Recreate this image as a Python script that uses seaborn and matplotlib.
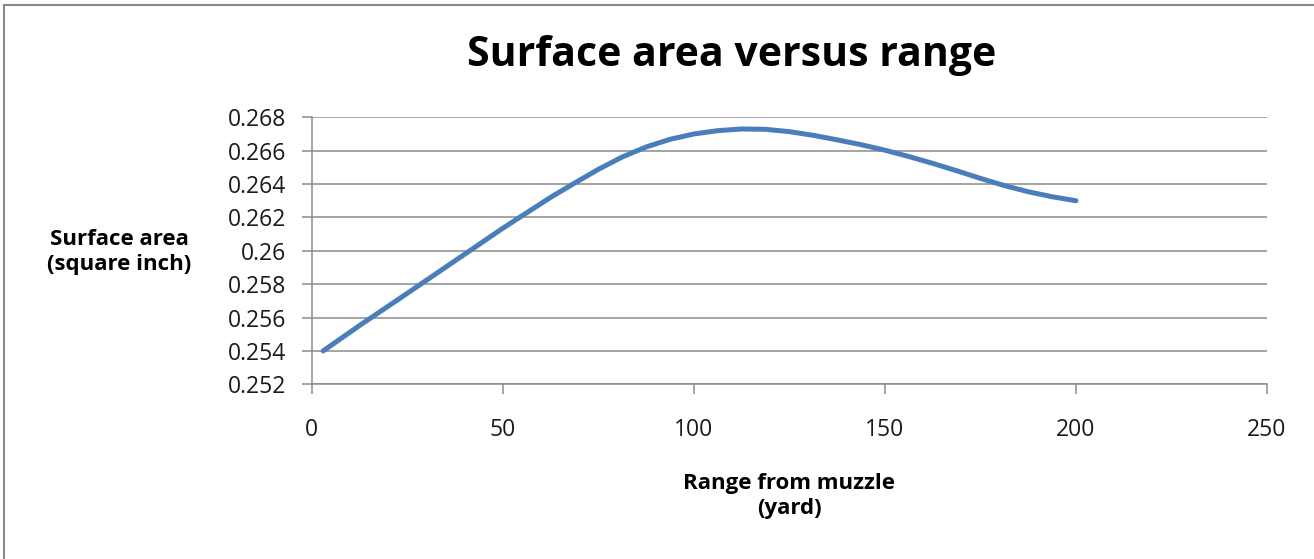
import matplotlib
matplotlib.use("Agg")
import matplotlib.pyplot as plt
from matplotlib.patches import Rectangle
import seaborn as sns
import pandas as pd

# Data
range_yd = [3, 12.5, 25, 37.5, 50, 62.5, 68.75, 75, 81.25, 87.5, 93.75, 100, 106.25,
            112.5, 118.75, 125, 131.25, 137.5, 143.75, 150, 156.25, 162.5, 168.75,
            175, 181.25, 187.5, 193.75, 200]
surface_area = [0.2540, 0.25552, 0.25745, 0.2594, 0.26135, 0.2632, 0.26405, 0.26488,
                0.26562, 0.26622, 0.26668, 0.2670, 0.2672, 0.2673, 0.26728, 0.26714,
                0.26692, 0.26665, 0.26636, 0.26603, 0.26565, 0.26524, 0.2648,
                0.26434, 0.26391, 0.26354, 0.26324, 0.2630]
x_ticks = [0, 50, 100, 150, 200, 250]
y_ticks = [0.252, 0.254, 0.256, 0.258, 0.26, 0.262, 0.264, 0.266, 0.268]
y_tick_labels = ["0.252", "0.254", "0.256", "0.258", "0.26", "0.262", "0.264", "0.266", "0.268"]

df = pd.DataFrame({"range": range_yd, "area": surface_area})

sns.set_theme(style="white")
plt.rcParams["font.family"] = ["Open Sans", "DejaVu Sans"]

W, H = 1314, 559
fig = plt.figure(figsize=(W / 100, H / 100), dpi=100)
fig.patch.set_facecolor("white")

ax = fig.add_axes([311.7 / W, 1 - 384.3 / H, (1267 - 311.7) / W, (384.3 - 117.3) / H])

sns.lineplot(data=df, x="range", y="area", ax=ax, color="#4A7EBB", linewidth=3.6,
             solid_capstyle="round", solid_joinstyle="round")

ax.set_xlim(0, 250)
ax.set_ylim(0.252, 0.268)
ax.set_xticks(x_ticks)
ax.set_xticklabels([str(t) for t in x_ticks])
ax.set_yticks(y_ticks)
ax.set_yticklabels(y_tick_labels)

grid_c = "#8C8C8C"
ax.yaxis.grid(True, color=grid_c, linewidth=1.1)
ax.xaxis.grid(False)
for s in ["top", "right"]:
    ax.spines[s].set_visible(False)
for s in ["left", "bottom"]:
    ax.spines[s].set_color(grid_c)
    ax.spines[s].set_linewidth(1.1)

ax.tick_params(axis="both", which="major", direction="out", length=7.2, width=1.1,
               color=grid_c, labelsize=16.5, labelcolor="#1a1a1a",
               bottom=True, left=True)
ax.tick_params(axis="y", pad=11)
ax.tick_params(axis="x", pad=17)

ax.set_xlabel("")
ax.set_ylabel("")

fig.text(732 / W, 1 - 55 / H, "Surface area versus range", ha="center", va="center",
         fontsize=29.5, fontweight="bold", color="black")
fig.text(119.5 / W, 1 - 252 / H, "Surface area\n(square inch)", ha="center", va="center",
         fontsize=16, fontweight="bold", color="black", linespacing=1.25)
fig.text(789 / W, 1 - 496 / H, "Range from muzzle\n(yard)", ha="center", va="center",
         fontsize=16, fontweight="bold", color="black", linespacing=1.25)

fig.patches.append(Rectangle((4 / W, -0.02), 1.05, 1 - 5 / H + 0.02, transform=fig.transFigure,
                             fill=False, edgecolor="#8A8A8A", linewidth=1.5))

fig.savefig("out.png", dpi=100, facecolor="white")
